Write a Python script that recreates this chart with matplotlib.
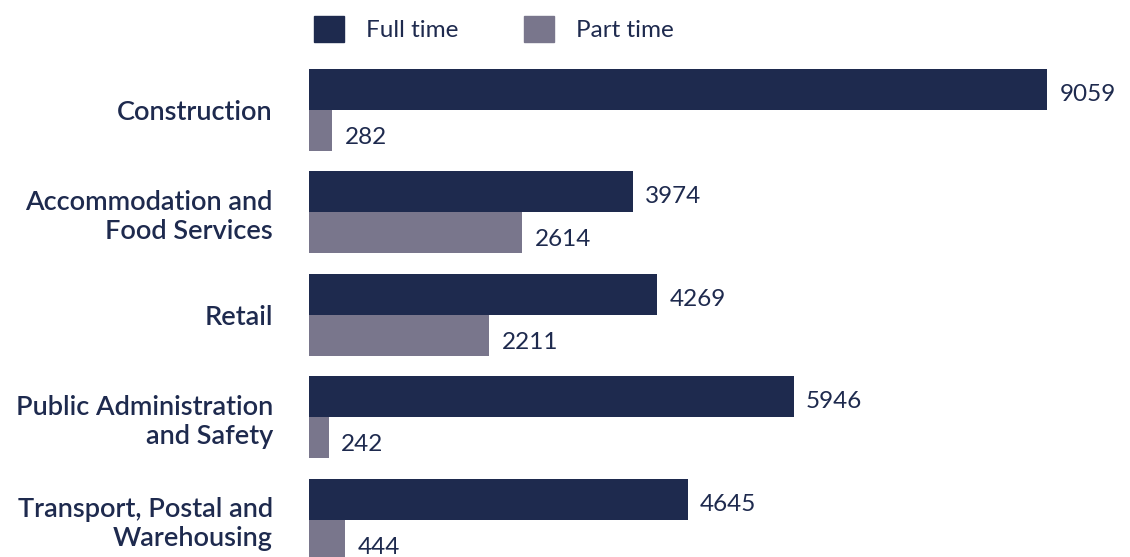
import numpy as np
from matplotlib import pyplot as plt
from matplotlib.patches import Patch

categories = ['Construction', 'Accommodation and\nFood Services', 'Retail',
              'Public Administration\nand Safety', 'Transport, Postal and\nWarehousing']
full_time = [9059, 3974, 4269, 5946, 4645]
part_time = [282, 2614, 2211, 242, 444]

navy = '#1e2a4e'
grey = '#79768c'

plt.rcParams['font.family'] = ['Lato', 'DejaVu Sans']

fig = plt.figure(figsize=(11.3, 5.57), dpi=100)
ax = fig.add_axes([309 / 1130, 0, 1 - 309 / 1130, 1])

y = np.arange(len(categories))
h = 0.4
ax.barh(y - h / 2, full_time, height=h, color=navy)
ax.barh(y + h / 2, part_time, height=h, color=grey)

# value labels next to each bar
for i in range(len(categories)):
    ax.annotate(str(full_time[i]), (full_time[i], y[i] - h / 2), xytext=(9, -3.5),
                textcoords='offset points', va='center', ha='left',
                fontsize=17.5, color=navy)
    ax.annotate(str(part_time[i]), (part_time[i], y[i] + h / 2), xytext=(9, -5),
                textcoords='offset points', va='center', ha='left',
                fontsize=17.5, color=navy)

ax.set_xlim(0, 10074)
ax.set_ylim(4.361, -1.073)
ax.set_yticks(y)
ax.set_yticklabels(categories, fontsize=19.5, fontweight='semibold', color=navy,
                   ha='right', linespacing=1.2)
ax.tick_params(axis='y', length=0, pad=26)
ax.set_xticks([])
for s in ax.spines.values():
    s.set_visible(False)

handles = [Patch(color=navy, label='Full time'), Patch(color=grey, label='Part time')]
fig.legend(handles=handles, loc='center left', bbox_to_anchor=(314 / 1130, 1 - 29 / 557),
           ncol=2, frameon=False, fontsize=17.5, labelcolor=navy,
           handlelength=1.23, handleheight=1.23, handletextpad=0.9,
           columnspacing=2.7, borderpad=0, borderaxespad=0)

plt.savefig('out.png', dpi=100)
